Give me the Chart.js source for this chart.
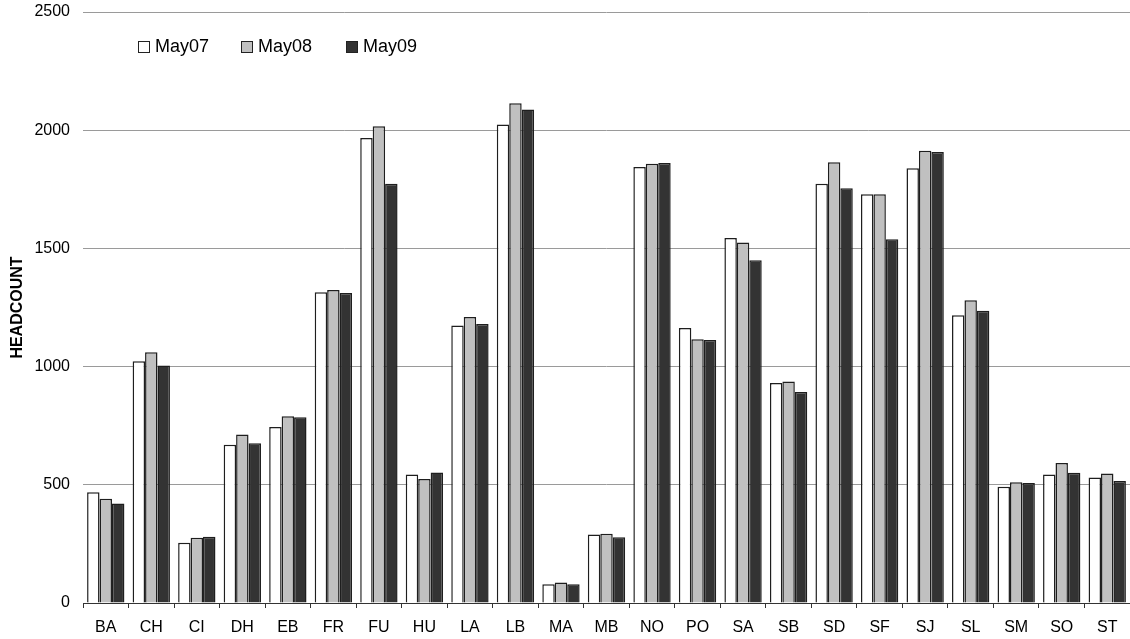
<!DOCTYPE html>
<html>
<head>
<meta charset="utf-8">
<script src="https://cdn.jsdelivr.net/npm/chart.js@4/dist/chart.umd.min.js"></script>
<style>
  body { margin: 0; background: #fff; }
  #wrap { position: relative; width: 1130px; height: 639px; }
  #legend { position: absolute; left: 0; top: 0; font-family: "Liberation Sans", Arial, sans-serif; font-size: 18px; color: #000; }
  .item { position: absolute; top: 36px; white-space: nowrap; line-height: 20px; }
  .box { display: inline-block; width: 10px; height: 10px; border: 1px solid #222; margin-right: 5px; vertical-align: -1px; }
</style>
</head>
<body>
<div id="wrap">
  <canvas id="myChart" width="1130" height="639"></canvas>
  <div id="legend"></div>
</div>
<script>
// Sites along the x axis
var sites = ["BA", "CH", "CI", "DH", "EB", "FR", "FU", "HU", "LA", "LB", "MA", "MB",
             "NO", "PO", "SA", "SB", "SD", "SF", "SJ", "SL", "SM", "SO", "ST"];

var series_names = ["May07", "May08", "May09"];

// headcount per site
var may07 = [468, 1023, 255, 669, 745, 1315, 1967, 544, 1174, 2024, 79, 290,
             1844, 1163, 1544, 931, 1774, 1729, 1839, 1217, 492, 544, 531];
var may08 = [441, 1061, 276, 713, 790, 1324, 2017, 525, 1210, 2114, 87, 293,
             1858, 1116, 1525, 937, 1864, 1729, 1913, 1281, 511, 592, 548];
var may09 = [421, 1005, 280, 676, 786, 1311, 1774, 552, 1180, 2088, 79, 278,
             1861, 1112, 1450, 893, 1754, 1539, 1908, 1236, 508, 551, 516];

var y_ticks = [0, 500, 1000, 1500, 2000, 2500];

var fills = ["#ffffff", "#c0c0c0", "#333333"];
var values = [may07, may08, may09];

function make_datasets() {
    var out = [];
    for(var i = 0; i < series_names.length; i++) {
        out.push({
            label: series_names[i],
            data: values[i],
            backgroundColor: fills[i],
            borderColor: '#1e1e1e',
            borderWidth: 1.5,
            categoryPercentage: 0.82,
            barPercentage: 1.0
        });
    }
    return out;
}

function make_legend() {
    // html legend so it can sit inside the plot like the original
    var lefts = [138, 241, 346];
    var el = document.getElementById('legend');
    for(var i = 0; i < series_names.length; i++) {
        var d = document.createElement('div');
        d.className = 'item';
        d.style.left = lefts[i] + 'px';
        d.innerHTML = '<span class="box" style="background:' + fills[i] + '"></span>' + series_names[i];
        el.appendChild(d);
    }
}

function create_chart() {
    var ctx = document.getElementById('myChart').getContext('2d');
    Chart.defaults.font.family = '"Liberation Sans", Arial, sans-serif';
    Chart.defaults.color = '#000';
    globalThis.chart = new Chart(ctx, {
        type: 'bar',
        data: {
            labels: sites,
            datasets: make_datasets()
        },
        options: {
            responsive: false,
            animation: false,
            layout: {
                padding: { top: 12, left: 0, right: 0, bottom: 0 }
            },
            plugins: {
                legend: { display: false },
                tooltip: { enabled: false }
            },
            scales: {
                x: {
                    // pin the axis band so the baseline lands where the original has it
                    afterFit: function(scale) { scale.height = 36; },
                    grid: {
                        drawOnChartArea: false,
                        drawTicks: true,
                        tickLength: 5,
                        color: '#333',
                        offset: true
                    },
                    border: { display: true, color: '#333', width: 1 },
                    ticks: { font: { size: 16, lineHeight: 1 }, padding: 12, maxRotation: 0, autoSkip: false }
                },
                y: {
                    min: 0,
                    max: 2500,
                    afterBuildTicks: function(axis) {
                        axis.ticks = y_ticks.map(function(v) { return { value: v }; });
                    },
                    afterFit: function(scale) {
                        scale.width = 83;
                        scale.paddingTop = 0;
                        scale.paddingBottom = 0;
                    },
                    grid: { color: '#9a9a9a', drawTicks: false, lineWidth: 1 },
                    border: { display: false },
                    ticks: {
                        font: { size: 16 },
                        padding: 13,
                        callback: function(v) { return String(v); }
                    },
                    title: {
                        display: true,
                        text: 'HEADCOUNT',
                        font: { size: 16, weight: 'bold' },
                        padding: { top: 8, bottom: 0 }
                    }
                }
            }
        }
    });
}

make_legend();
create_chart();
</script>
</body>
</html>
